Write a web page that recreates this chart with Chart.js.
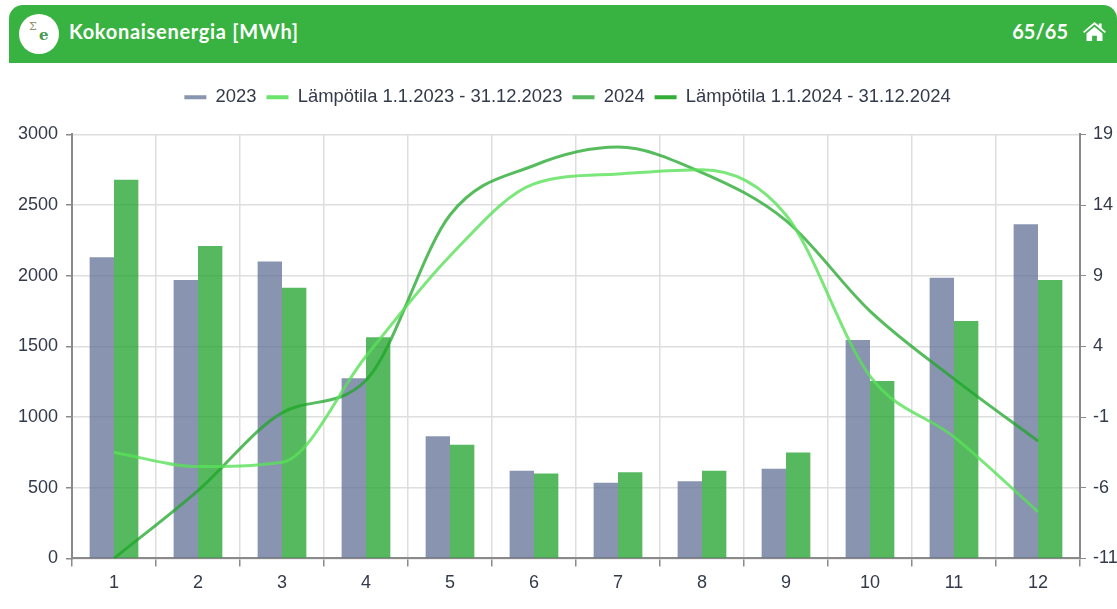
<!DOCTYPE html>
<html>
<head>
<meta charset="utf-8">
<script src="https://cdn.jsdelivr.net/npm/chart.js@4"></script>
<style>
    html, body { margin: 0; padding: 0; background: #fff; overflow: hidden; }
    body { width: 1117px; height: 609px; position: relative; }
    #header {
        position: absolute; left: 9px; top: 5px; width: 1108px; height: 58px;
        background: #38b240; border-radius: 14px 14px 0 0; color: #fff;
        font-family: Lato, "Noto Sans", sans-serif; font-weight: 700; font-size: 20px;
    }
    #badge {
        position: absolute; left: 10px; top: 9px; width: 40px; height: 40px;
        border-radius: 50%; background: #fff; font-family: "DejaVu Serif", serif;
    }
    #badge .sigma { position: absolute; left: 10px; top: 6px; font-size: 11px; color: #8a8f60; font-weight: 400; }
    #badge .e { position: absolute; left: 20px; top: 12px; font-size: 15px; color: #4a9a50; }
    #title { position: absolute; left: 60px; top: 14px; letter-spacing: 0.7px; }
    #pages { position: absolute; right: 49px; top: 14px; }
    #home { position: absolute; right: 11px; top: 17px; width: 23px; height: 19px; }
    #wrap { position: absolute; left: 0; top: 63px; width: 1117px; height: 546px; }
</style>
</head>
<body>
<div id="header">
    <div id="badge"><span class="sigma">&Sigma;</span><span class="e">e</span></div>
    <div id="title">Kokonaisenergia [MWh]</div>
    <div id="pages">65/65</div>
    <svg id="home" viewBox="0 0 24 20"><path fill="#fff" d="M12 0 L16.5 3.8 V1.5 H19.5 V6.3 L24 10.2 L22.8 11.6 L12 2.6 L1.2 11.6 L0 10.2 Z M3.6 12.2 L12 5 L20.4 12.2 V20 H14.5 V14.5 H9.5 V20 H3.6 Z"/></svg>
</div>
<div id="wrap"><canvas id="chart"></canvas></div>
<script>
const months = ['1', '2', '3', '4', '5', '6', '7', '8', '9', '10', '11', '12'];
const energy2023 = [2130, 1970, 2100, 1275, 865, 620, 535, 545, 635, 1545, 1985, 2365];
const energy2024 = [2680, 2210, 1915, 1565, 805, 600, 610, 620, 750, 1255, 1680, 1970];
const temp2023 = [-3.5, -4.5, -4.2, 3.3, 10.4, 15.5, 16.2, 16.5, 13.3, 1.9, -2.4, -7.7];
const temp2024 = [-11, -6.2, -0.7, 1.6, 13.3, 16.8, 18.1, 16.3, 12.9, 6.5, 1.7, -2.7];

const textColor = '#333a4a';
const gridColor = '#dedede';
const axisColor = '#8a8a8a';
const tickFont = { family: 'Liberation Sans', size: 18 };

// extra room between legend and plot
const legendGap = {
    id: 'legendGap',
    beforeInit(chart) {
        const fit = chart.legend.fit;
        chart.legend.fit = function () {
            fit.call(this);
            this.height += 18;
        };
    }
};

new Chart(document.getElementById('chart'), {
    plugins: [legendGap],
    data: {
        labels: months,
        datasets: [
            { type: 'bar', label: '2023', data: energy2023, yAxisID: 'y', backgroundColor: 'rgba(98,112,150,0.75)', order: 2 },
            { type: 'line', label: 'Lämpötila 1.1.2023 - 31.12.2023', data: temp2023, yAxisID: 'y1', borderColor: 'rgba(90,225,90,0.8)', backgroundColor: 'rgba(90,225,90,0.9)', borderWidth: 3, pointRadius: 0, cubicInterpolationMode: 'monotone', order: 1 },
            { type: 'bar', label: '2024', data: energy2024, yAxisID: 'y', backgroundColor: 'rgba(40,165,50,0.78)', order: 2 },
            { type: 'line', label: 'Lämpötila 1.1.2024 - 31.12.2024', data: temp2024, yAxisID: 'y1', borderColor: 'rgba(30,165,40,0.75)', backgroundColor: 'rgba(38,170,45,0.95)', borderWidth: 3, pointRadius: 0, cubicInterpolationMode: 'monotone', order: 1 }
        ]
    },
    options: {
        responsive: true,
        maintainAspectRatio: false,
        animation: false,
        layout: { padding: { top: 15, bottom: 9, left: 18 } },
        datasets: { bar: { categoryPercentage: 0.58, barPercentage: 1 } },
        plugins: {
            legend: {
                position: 'top',
                labels: {
                    color: textColor, font: { family: 'Liberation Sans', size: 18.4 }, boxWidth: 22, boxHeight: 4, padding: 10,
                    sort: (a, b) => a.datasetIndex - b.datasetIndex,
                    generateLabels(chart) {
                        return Chart.defaults.plugins.legend.labels.generateLabels(chart).map(item => ({ ...item, lineWidth: 0 }));
                    }
                }
            },
            tooltip: { mode: 'index', intersect: false }
        },
        scales: {
            x: {
                grid: { color: gridColor, lineWidth: 1.5, tickColor: axisColor, tickLength: 8 },
                border: { color: axisColor, width: 2 },
                ticks: { color: textColor, font: tickFont, padding: 6 }
            },
            y: {
                position: 'left', min: 0, max: 3000,
                afterFit: (axis) => { axis.width = 54; },
                grid: { color: gridColor, lineWidth: 1.5, tickColor: axisColor, tickLength: 6 },
                border: { color: axisColor, width: 2 },
                ticks: { stepSize: 500, color: textColor, font: tickFont, padding: 8, callback: (v) => String(v) }
            },
            y1: {
                position: 'right', min: -11, max: 19,
                afterFit: (axis) => { axis.width = 37; },
                grid: { drawOnChartArea: false, tickColor: axisColor, tickLength: 6 },
                border: { color: axisColor, width: 2 },
                ticks: { stepSize: 5, color: textColor, font: tickFont, padding: 7 }
            }
        }
    }
});
</script>
</body>
</html>
